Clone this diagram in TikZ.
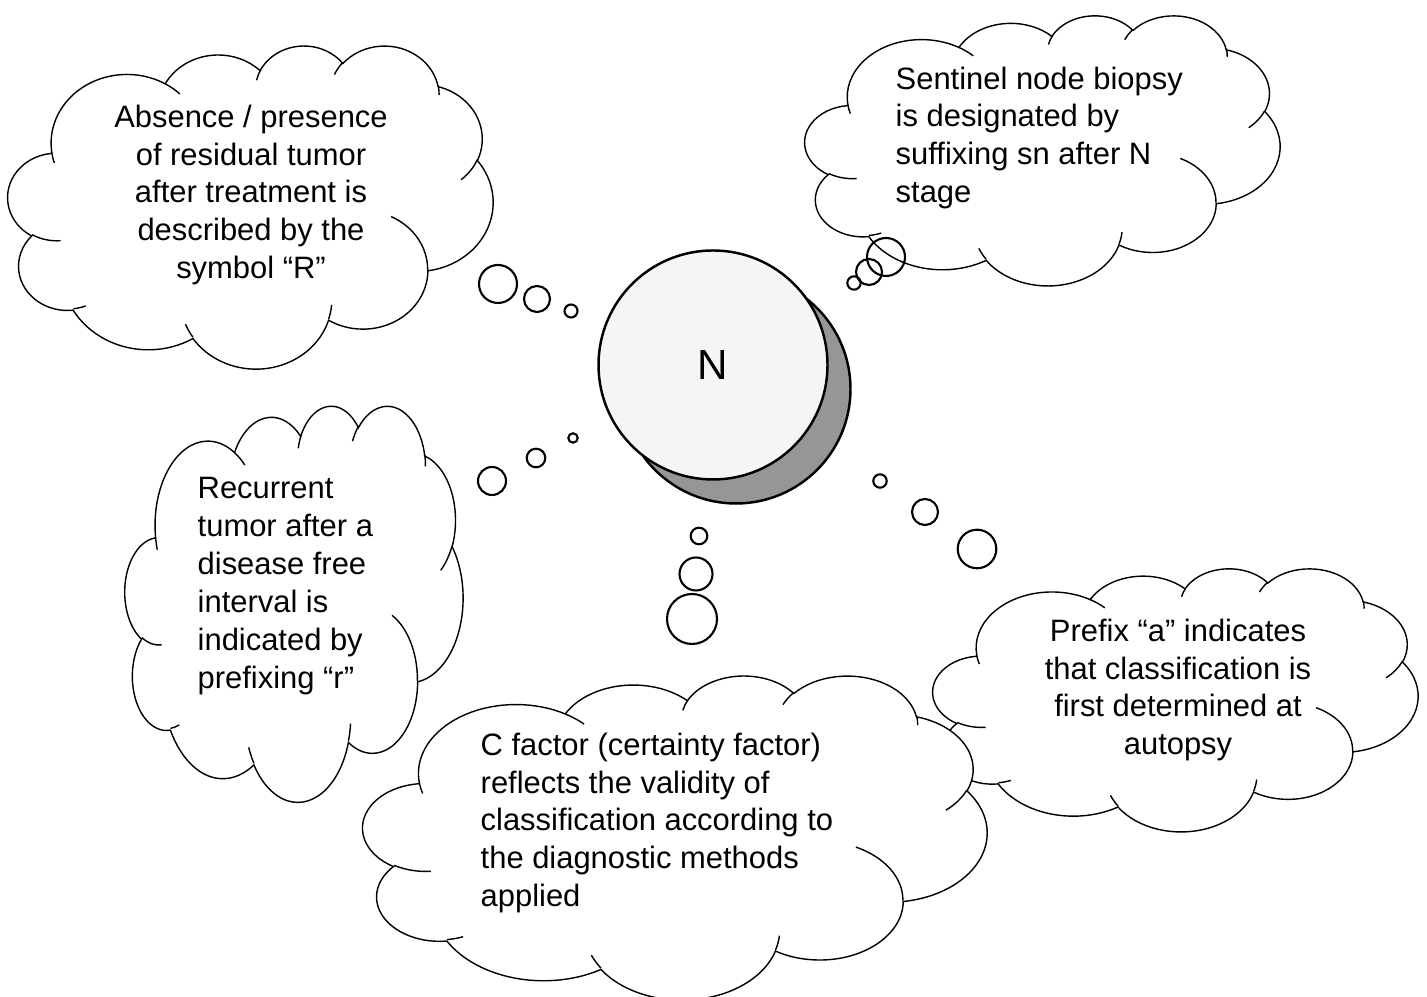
\documentclass[tikz,border=0pt]{standalone}
\usepackage{fontspec}
\setmainfont{Liberation Sans}
\usepackage{xcolor}
\usepackage{tikz}
\usetikzlibrary{shapes,positioning}

\definecolor{discface}{RGB}{245,245,245}
\definecolor{discside}{RGB}{150,150,150}

\begin{document}
\begin{tikzpicture}[
    cloudline/.style={draw, fill=white, line width=0.4pt},
    txt/.style={inner sep=0pt, font=\fontsize{8.8}{10.8}\selectfont},
    bub/.style={draw, line width=0.6pt},
    disc/.style={circle, draw, line width=0.7pt, minimum size=2.29cm},
    puffcloud/.pic={
      \path[cloudline] (0.0903,0.6674)
        arc[start angle=187.746, end angle=59.665, x radius=0.1563, y radius=0.2127]
        arc[start angle=152.023, end angle=45.457, x radius=0.1235, y radius=0.1682]
        arc[start angle=153.488, end angle=37.320, x radius=0.1010, y radius=0.1376]
        arc[start angle=139.708, end angle=10.212, x radius=0.1124, y radius=0.1527]
        arc[start angle=74.768, end angle=-23.208, x radius=0.1235, y radius=0.1684]
        arc[start angle=37.525, end angle=-81.862, x radius=0.1568, y radius=0.2134]
        arc[start angle=-0.460, end angle=-121.973, x radius=0.1339, y radius=0.1821]
        arc[start angle=-16.844, end angle=-146.235, x radius=0.1563, y radius=0.2133]
        arc[start angle=-58.985, end angle=-150.188, x radius=0.1787, y radius=0.2441]
        arc[start angle=276.694, end angle=136.894, x radius=0.1009, y radius=0.1370]
        arc[start angle=239.665, end angle=95.887, x radius=0.1006, y radius=0.1376]
        -- cycle;
      % small inner arcs of each puff
      \foreach \x/\y/\a/\b/\rx/\ry in {
          0.1086/0.3941/-85.547/-120.335/0.1006/0.1376,
          0.1604/0.1922/-68.236/-83.306/0.1009/0.1370,
          0.3814/0.0951/-146.235/-158.473/0.1563/0.2133,
          0.6673/0.1956/-4.737/-16.844/0.1563/0.2133,
          0.7900/0.4687/64.025/-0.460/0.1339/0.1821,
          0.9676/0.6446/-23.208/-49.637/0.1235/0.1684,
          0.8871/0.8744/10.212/-0.823/0.1124/0.1527,
          0.6731/0.9085/156.288/139.708/0.1124/0.1527,
          0.5125/0.8907/167.727/153.488/0.1010/0.1376,
          0.3241/0.8798/59.665/45.744/0.1563/0.2127,
          0.0955/0.6345/-163.194/-172.254/0.1563/0.2127}
        \draw[line width=0.4pt] (\x,\y) arc[start angle=\a, end angle=\b, x radius=\rx, y radius=\ry];
    }
  ]
    \useasboundingbox (0,0) rectangle (14.27,9.97);
    \fill[white] (0,0) rectangle (14.27,9.97);

    \pic[xscale=4.85, yscale=3.23] (res) at (0.08,6.29) {puffcloud};
    \pic[xscale=4.75, yscale=2.70] (sn) at (8.05,7.12) {puffcloud};
    \pic[xscale=3.38, yscale=3.96] (rec) at (1.25,1.96) {puffcloud};
    \pic[xscale=4.85, yscale=2.63] (aut) at (9.33,1.66) {puffcloud};
    \pic[xscale=6.24, yscale=3.24] (cf) at (3.63,-0.02) {puffcloud};

    \node[txt, align=center] (restxt) at (2.51,8.02) {Absence / presence\\of residual tumor\\after treatment is\\described by the\\symbol “R”};
    \node[txt, align=left, anchor=west] (sntxt) at (8.95,8.59) {Sentinel node biopsy\\is designated by\\suffixing sn after N\\stage};
    \node[txt, align=left, anchor=west] (rectxt) at (1.97,4.11) {Recurrent\\tumor after a\\disease free\\interval is\\indicated by\\prefixing “r”};
    \node[txt, align=left, anchor=west] (cftxt) at (4.80,1.74) {C factor (certainty factor)\\reflects the validity of\\classification according to\\the diagnostic methods\\applied};
    \node[txt, align=center] (auttxt) at (11.78,3.07) {Prefix “a” indicates\\that classification is\\first determined at\\autopsy};

    \node[disc, fill=discside] (nside) at (7.36,6.08) {};
    \node[disc, fill=discface, font=\fontsize{12}{14}\selectfont] (n) at (7.13,6.32) {N};

    \foreach \x/\y/\r in {4.98/7.13/0.19, 5.37/6.98/0.13, 5.71/6.86/0.065,
                          5.73/5.59/0.047, 5.36/5.39/0.093, 4.92/5.16/0.14,
                          6.99/4.61/0.083, 6.96/4.23/0.165, 6.92/3.78/0.25,
                          8.80/5.16/0.067, 9.25/4.85/0.13, 9.77/4.48/0.193,
                          8.54/7.14/0.067, 8.69/7.25/0.13, 8.86/7.40/0.19}
      \draw[bub] (\x,\y) circle (\r);
  \end{tikzpicture}
\end{document}
